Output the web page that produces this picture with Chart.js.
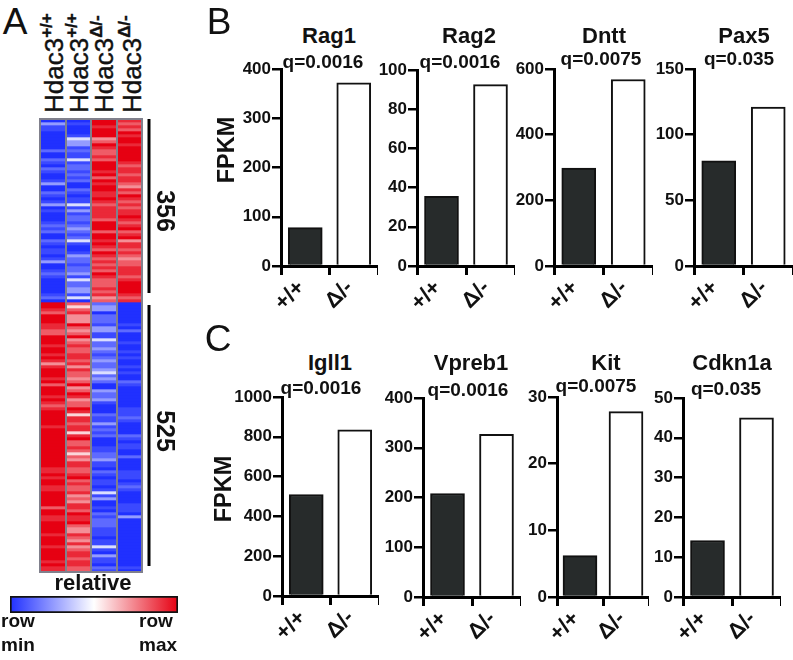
<!DOCTYPE html>
<html>
<head>
<meta charset="utf-8">
<title>Hdac3 heatmap and FPKM bars</title>
<script src="https://cdn.jsdelivr.net/npm/chart.js@4"></script>
<style>
  html, body { margin: 0; background: #fff; }
  #page { position: relative; width: 793px; height: 660px; overflow: hidden; font-family: "Liberation Sans", Arial, sans-serif; color: #111; }
  canvas { position: absolute; }
  .lbl { position: absolute; line-height: 0; white-space: nowrap; }
  .lbl sup { font-size: 17px; vertical-align: 11px; line-height: 0; font-weight: bold; }
</style>
</head>
<body>
<div id="page"></div>
<script>
// bar panels
const geneNames = ['Rag1', 'Rag2', 'Dntt', 'Pax5', 'Igll1', 'Vpreb1', 'Kit', 'Cdkn1a'];
const qValues = ['q=0.0016', 'q=0.0016', 'q=0.0075', 'q=0.035', 'q=0.0016', 'q=0.0016', 'q=0.0075', 'q=0.035'];
const categories = ['+/+', 'Δ/-'];
const wtValues = [78, 35.5, 298, 80, 510, 208, 6.2, 14.2];
const koValues = [372, 92.5, 568, 121, 835, 327, 27.8, 45];
const axisMax = [400, 100, 600, 150, 1000, 400, 30, 50];
const axisStep = [100, 20, 200, 50, 200, 100, 10, 10];

// heatmap, one level per row, 0 = row min ... 9 = row max
const sampleNames = ['Hdac3<sup>+/+</sup>', 'Hdac3<sup>+/+</sup>', 'Hdac3<sup>Δ/-</sup>', 'Hdac3<sup>Δ/-</sup>'];
const col1 = [0,3,1,1,0,0,0,0,0,0,2,0,0,2,1,0,2,1,0,0,1,3,0,0,2,1,0,1,3,0,1,0,0,0,1,2,1,2,0,0,2,1,0,1,1,0,1,3,0,0,1,2,1,0,0,0,0,0,1,2,0,
  9,9,8,7,9,9,9,8,8,7,7,9,9,9,8,9,9,8,9,8,6,8,9,9,9,8,9,7,9,9,9,8,9,8,7,8,9,9,9,9,9,8,9,9,9,9,9,9,9,9,9,9,9,9,9,8,8,9,8,9,9,8,8,9,9,9,9,9,7,9,9,8,8,9,9,9,9,8,9,9,9,8,9,9,9,9,8,9,8,8];
const col2 = [0,1,0,0,0,1,4,3,3,1,2,1,1,4,1,2,2,1,2,1,2,0,0,2,1,0,1,1,4,1,3,1,2,2,1,2,3,2,1,2,4,1,0,0,1,3,2,2,1,2,2,3,1,4,2,2,3,3,1,4,0,
  7,5,7,8,6,6,6,9,7,6,7,9,6,7,8,7,7,8,8,7,8,6,8,7,7,6,7,9,6,7,9,8,6,7,7,9,8,5,8,8,7,8,8,5,8,9,7,7,8,7,5,7,6,8,8,7,7,8,9,7,8,7,7,8,6,7,6,8,8,7,9,8,8,9,7,6,6,8,7,6,8,6,7,8,8,7,8,8,7,7];
const col3 = [9,9,8,9,9,9,6,7,9,8,7,7,8,7,9,9,9,8,9,7,9,8,9,9,8,8,9,8,7,8,8,8,8,7,9,9,9,7,9,9,8,9,8,7,9,8,7,8,7,8,7,9,8,7,7,7,8,7,8,6,7,
  2,3,3,0,2,2,2,1,3,3,1,1,4,2,2,3,2,1,2,3,2,2,3,4,2,3,2,0,0,3,2,2,3,1,0,0,0,2,1,1,3,1,2,1,2,0,0,0,1,1,2,2,3,1,1,0,2,1,0,1,1,0,1,4,1,3,0,0,1,0,2,1,2,2,2,1,1,1,0,1,1,4,1,0,3,1,1,0,2,1];
const col4 = [8,7,8,7,9,8,9,9,8,9,9,9,9,9,8,7,8,8,7,8,8,7,6,8,7,9,8,7,8,7,8,8,9,8,7,8,9,7,8,9,6,8,8,7,8,7,6,7,7,8,8,8,7,8,9,9,9,9,8,7,8,
  0,0,0,0,0,0,0,1,0,2,0,0,0,1,0,0,1,0,1,0,0,1,0,1,0,0,2,1,0,0,0,0,0,0,0,1,1,1,2,1,0,0,0,0,2,1,0,1,1,0,0,2,0,0,0,0,1,1,1,0,1,2,1,0,0,0,0,1,1,1,0,3,0,0,0,0,0,0,0,0,0,0,0,0,0,0,0,0,1,0];
const levelScale = [0, 0.06, 0.14, 0.26, 0.42, 0.58, 0.72, 0.82, 0.92, 1];
const blockLabels = ['356', '525'];
const blockRows = [[0, 58], [62, 149]];
const colorStops = [[0, [32, 48, 255]], [0.5, [255, 255, 255]], [1, [230, 0, 18]]];

// layout of the bar panels, px on the page
const axisLeft = [281, 417, 554, 694, 282, 423, 557, 683];
const axisRight = [378, 515, 653, 793, 379, 521, 649, 781];
const axisTop = [69, 70, 69, 69, 397, 398, 397, 398];
const axisBottom = [266, 266, 266, 266, 596, 597, 597, 597];
const titleX = [329, 469, 604, 744, 330, 471, 606, 732];
const titleY = [36, 36, 36, 36, 363, 363, 363, 363];
const qX = [323, 460, 601, 739, 321, 468, 596, 726];
const qY = [62, 62, 59, 59, 388, 390, 386, 389];

const page = document.getElementById('page');

function label(html, x, y, size, weight, rot, start) {
  const el = document.createElement('div');
  el.className = 'lbl';
  el.innerHTML = html;
  el.style.left = x + 'px';
  el.style.top = y + 'px';
  el.style.fontSize = size + 'px';
  el.style.fontWeight = weight;
  if (start) {
    el.style.transformOrigin = '0 0';
    el.style.transform = 'rotate(' + rot + 'deg)';
    el.style.webkitTextStroke = '0.4px #111';
  } else {
    el.style.transform = 'translate(-50%,0) rotate(' + (rot || 0) + 'deg)';
  }
  page.appendChild(el);
}

function addCanvas(left, top, width, height) {
  const c = document.createElement('canvas');
  c.width = width;
  c.height = height;
  c.style.left = left + 'px';
  c.style.top = top + 'px';
  c.style.width = width + 'px';
  c.style.height = height + 'px';
  page.appendChild(c);
  return c.getContext('2d');
}

function levelColor(t) {
  for (let i = 1; i < colorStops.length; i++) {
    if (t <= colorStops[i][0]) {
      const a = colorStops[i - 1], b = colorStops[i];
      const f = (t - a[0]) / (b[0] - a[0]);
      const rgb = a[1].map((v, k) => Math.round(v + (b[1][k] - v) * f));
      return 'rgb(' + rgb.join(',') + ')';
    }
  }
  return 'rgb(' + colorStops[colorStops.length - 1][1].join(',') + ')';
}

// FPKM bars
geneNames.forEach((g, i) => {
  const padTop = 12, axisW = 50, axisH = 45;
  const ctx = addCanvas(axisLeft[i] - axisW, axisTop[i] - padTop,
    axisRight[i] - axisLeft[i] + axisW, axisBottom[i] - axisTop[i] + padTop + axisH);
  new Chart(ctx, {
    type: 'bar',
    data: {
      labels: categories,
      datasets: [{
        data: [wtValues[i], koValues[i]],
        backgroundColor: ['#272b2b', '#ffffff'],
        borderColor: '#111',
        borderWidth: 2,
        borderSkipped: 'bottom',
        barThickness: 34
      }]
    },
    options: {
      responsive: false,
      animation: false,
      layout: { padding: { top: padTop } },
      plugins: { legend: { display: false }, tooltip: { enabled: false } },
      scales: {
        x: {
          afterFit: s => { s.height = axisH; },
          border: { color: '#000', width: 3 },
          grid: { drawOnChartArea: false, color: '#000', lineWidth: 3, tickLength: 9 },
          ticks: { color: '#111', font: { family: 'Liberation Sans', size: 22, weight: 'bold' }, minRotation: 45, maxRotation: 45, padding: 0, labelOffset: -4 }
        },
        y: {
          min: 0,
          max: axisMax[i],
          afterFit: s => { s.width = axisW; },
          border: { color: '#000', width: 3 },
          grid: { drawOnChartArea: false, color: '#000', lineWidth: 2.5, tickLength: 9 },
          ticks: { stepSize: axisStep[i], callback: v => String(v), color: '#111', font: { family: 'Liberation Sans', size: 17, weight: 'bold' }, padding: 1 }
        }
      }
    }
  });
  label(g, titleX[i], titleY[i], 22, 'bold');
  label(qValues[i], qX[i], qY[i], 19, 'bold');
});

// heatmap: one stacked dataset per row, one cell per sample
const columns = [col1, col2, col3, col4];
const rowCount = col1.length;
const rowDatasets = col1.map((_, r) => ({
  data: columns.map(() => 1),
  backgroundColor: columns.map(c => levelColor(levelScale[c[r]])),
  borderWidth: 0,
  barPercentage: 1,
  categoryPercentage: 1
}));

const heatFrame = {
  id: 'heatFrame',
  afterDraw(chart) {
    const { ctx, chartArea: a, scales: { y } } = chart;
    ctx.save();
    ctx.strokeStyle = '#80808c';
    ctx.lineWidth = 2;
    ctx.strokeRect(a.left, a.top, a.right - a.left, a.bottom - a.top);
    ctx.strokeStyle = '#000';
    ctx.lineWidth = 3;
    blockRows.forEach(b => {
      ctx.beginPath();
      ctx.moveTo(a.right + 7, y.getPixelForValue(b[0]));
      ctx.lineTo(a.right + 7, y.getPixelForValue(b[1]));
      ctx.stroke();
    });
    ctx.restore();
  }
};

new Chart(addCanvas(36, 115, 124, rowCount * 3 + 8), {
  type: 'bar',
  data: { labels: sampleNames, datasets: rowDatasets },
  options: {
    responsive: false,
    animation: false,
    layout: { padding: { left: 4, top: 4, right: 18, bottom: 4 } },
    plugins: { legend: { display: false }, tooltip: { enabled: false } },
    scales: {
      x: {
        stacked: true,
        border: { display: false },
        grid: { offset: true, z: 1, color: '#80808c', lineWidth: 2, drawTicks: false },
        ticks: { display: false }
      },
      y: { stacked: true, display: false, reverse: true, min: 0, max: rowCount }
    }
  },
  plugins: [heatFrame]
});

// colour key
new Chart(addCanvas(8, 594, 172, 21), {
  type: 'bar',
  data: {
    labels: ['relative'],
    datasets: [{
      data: [[0, 1]],
      backgroundColor: c => {
        const a = c.chart.chartArea;
        if (!a) return '#fff';
        const g = c.chart.ctx.createLinearGradient(a.left, 0, a.right, 0);
        colorStops.forEach(s => g.addColorStop(s[0], 'rgb(' + s[1].join(',') + ')'));
        return g;
      },
      borderColor: '#111',
      borderWidth: 2,
      borderSkipped: false,
      barPercentage: 1,
      categoryPercentage: 1
    }]
  },
  options: {
    indexAxis: 'y',
    responsive: false,
    animation: false,
    layout: { padding: 2 },
    plugins: { legend: { display: false }, tooltip: { enabled: false } },
    scales: { x: { display: false, min: 0, max: 1 }, y: { display: false } }
  }
});

// text around the charts
label('A', 15, 22, 37, 'normal');
label('B', 219, 22, 37, 'normal');
label('C', 218, 339, 37, 'normal');
label('FPKM', 226, 150, 23.5, 'bold', -90);
label('FPKM', 223, 489, 23.5, 'bold', -90);
[47, 72, 97, 125].forEach((x, i) => label(sampleNames[i], x, 113, 26, 'normal', -90, true));
label(blockLabels[0], 166, 211, 25, 'bold', 90);
label(blockLabels[1], 166, 431, 25, 'bold', 90);
label('relative', 93, 583, 22, 'bold');
label('row', 18, 621, 19, 'bold');
label('min', 18, 645, 19, 'bold');
label('row', 156, 621, 19, 'bold');
label('max', 158, 645, 19, 'bold');
</script>
</body>
</html>
